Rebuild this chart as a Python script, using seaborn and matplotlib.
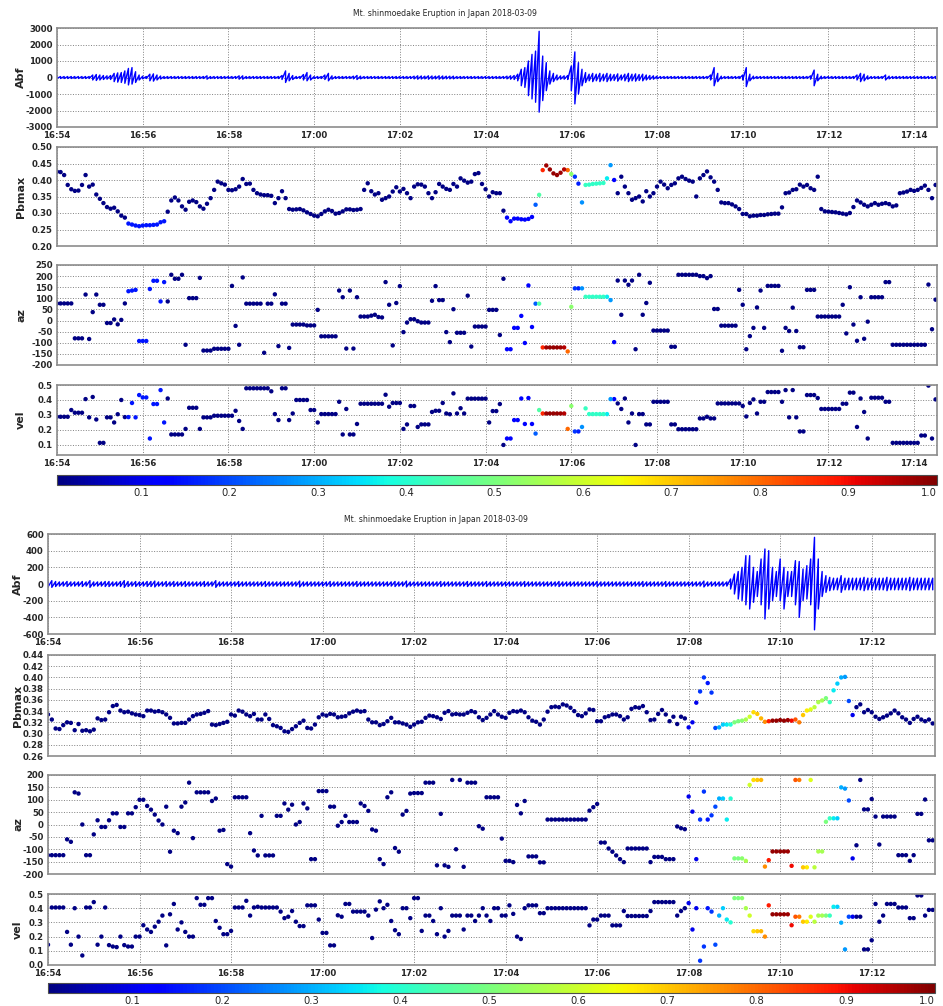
import numpy as np
import pandas as pd
import seaborn as sns
import matplotlib
import matplotlib.pyplot as plt
from matplotlib import font_manager
from matplotlib.cm import ScalarMappable
from matplotlib.colors import Normalize
from matplotlib.ticker import FormatStrFormatter

# time axis: seconds after 16:54:00, one value every 5 s
top_t = np.arange(0, 1235, 5)
bot_t = np.arange(0, 1165, 5)

top_xtick_labels = ['16:54', '16:56', '16:58', '17:00', '17:02', '17:04',
                    '17:06', '17:08', '17:10', '17:12', '17:14']
bot_xtick_labels = ['16:54', '16:56', '16:58', '17:00', '17:02', '17:04',
                    '17:06', '17:08', '17:10', '17:12']
cbar_ticks = [0.1, 0.2, 0.3, 0.4, 0.5, 0.6, 0.7, 0.8, 0.9, 1.0]

# ---------------- first event (upper block) ----------------
top_abf_hi = [
    60, 60, 60, 60, 60, 60, 60, 60, 60, 60, 150, 180, 150, 120, 100, 120, 250, 280, 300, 400,
    550, 600, 350, 150, 80, 60, 200, 220, 150, 90, 60, 60, 60, 60, 60, 60, 60, 60, 60, 60,
    60, 60, 100, 60, 60, 60, 60, 60, 60, 60, 60, 100, 100, 60, 60, 60, 60, 60, 60, 60,
    60, 60, 60, 120, 400, 250, 120, 60, 60, 180, 300, 150, 60, 60, 60, 150, 250, 100, 60, 60,
    60, 60, 60, 80, 120, 80, 60, 60, 60, 60, 60, 60, 60, 60, 60, 60, 60, 60, 60, 60,
    80, 100, 90, 80, 100, 90, 80, 100, 90, 80, 80, 80, 60, 60, 60, 60, 60, 60, 60, 60,
    60, 60, 60, 60, 60, 60, 80, 100, 120, 200, 500, 600, 1000, 1400, 1600, 2800, 1300, 900, 400, 250,
    150, 100, 100, 120, 700, 1550, 900, 500, 300, 200, 250, 200, 250, 200, 250, 200, 180, 220, 150, 200,
    250, 200, 220, 180, 200, 150, 120, 100, 80, 60, 60, 60, 60, 60, 60, 60, 60, 60, 60, 60,
    60, 60, 60, 150, 600, 250, 80, 60, 60, 60, 60, 60, 150, 600, 200, 80, 60, 60, 60, 60,
    60, 60, 60, 60, 60, 60, 60, 60, 60, 60, 60, 100, 450, 200, 80, 60, 60, 60, 60, 60,
    60, 60, 60, 60, 150, 250, 200, 100, 60, 60, 60, 60, 150, 80, 60, 60, 60, 60, 60, 60,
    60, 60, 60, 60, 60, 60, 60]
top_abf_lo = [
    60, 60, 60, 60, 60, 60, 60, 60, 60, 60, 150, 180, 150, 120, 100, 120, 250, 280, 300, 350,
    450, 400, 300, 150, 80, 60, 200, 220, 150, 90, 60, 60, 60, 60, 60, 60, 60, 60, 60, 60,
    60, 60, 100, 60, 60, 60, 60, 60, 60, 60, 60, 100, 100, 60, 60, 60, 60, 60, 60, 60,
    60, 60, 60, 120, 300, 200, 120, 60, 60, 150, 200, 150, 60, 60, 60, 120, 200, 100, 60, 60,
    60, 60, 60, 80, 120, 80, 60, 60, 60, 60, 60, 60, 60, 60, 60, 60, 60, 60, 60, 60,
    80, 100, 90, 80, 100, 90, 80, 100, 90, 80, 80, 80, 60, 60, 60, 60, 60, 60, 60, 60,
    60, 60, 60, 60, 60, 60, 80, 100, 120, 200, 500, 600, 1100, 1300, 1500, 2100, 1400, 800, 400, 250,
    150, 100, 100, 120, 800, 1600, 1000, 500, 300, 200, 250, 200, 250, 200, 250, 200, 180, 220, 150, 200,
    250, 200, 220, 180, 200, 150, 120, 100, 80, 60, 60, 60, 60, 60, 60, 60, 60, 60, 60, 60,
    60, 60, 60, 150, 500, 250, 80, 60, 60, 60, 60, 60, 150, 550, 200, 80, 60, 60, 60, 60,
    60, 60, 60, 60, 60, 60, 60, 60, 60, 60, 60, 100, 500, 200, 80, 60, 60, 60, 60, 60,
    60, 60, 60, 60, 150, 250, 200, 100, 60, 60, 60, 60, 150, 80, 60, 60, 60, 60, 60, 60,
    60, 60, 60, 60, 60, 60, 60]
top_pbmax = [
    0.425, 0.424, 0.415, 0.385, 0.372, 0.367, 0.368, 0.385, 0.415, 0.380, 0.386, 0.356, 0.343, 0.330, 0.318, 0.313, 0.316, 0.305, 0.292, 0.286,
    0.268, 0.265, 0.262, 0.260, 0.262, 0.263, 0.263, 0.264, 0.265, 0.272, 0.275, 0.304, 0.338, 0.347, 0.338, 0.320, 0.310, 0.334, 0.338, 0.333,
    0.320, 0.313, 0.328, 0.345, 0.370, 0.395, 0.390, 0.386, 0.370, 0.369, 0.372, 0.380, 0.403, 0.388, 0.389, 0.370, 0.360, 0.356, 0.354, 0.354,
    0.352, 0.330, 0.345, 0.366, 0.345, 0.312, 0.310, 0.311, 0.312, 0.308, 0.302, 0.297, 0.292, 0.290, 0.297, 0.305, 0.310, 0.306, 0.298, 0.300,
    0.305, 0.311, 0.311, 0.309, 0.310, 0.312, 0.370, 0.390, 0.366, 0.356, 0.360, 0.340, 0.345, 0.350, 0.365, 0.378, 0.365, 0.373, 0.360, 0.345,
    0.380, 0.387, 0.386, 0.380, 0.360, 0.345, 0.363, 0.388, 0.380, 0.373, 0.370, 0.388, 0.380, 0.405, 0.398, 0.392, 0.395, 0.418, 0.421, 0.388,
    0.372, 0.350, 0.363, 0.360, 0.360, 0.307, 0.286, 0.275, 0.283, 0.283, 0.281, 0.280, 0.282, 0.288, 0.325, 0.355, 0.430, 0.444, 0.432, 0.420,
    0.415, 0.422, 0.432, 0.430, 0.418, 0.410, 0.389, 0.332, 0.385, 0.386, 0.388, 0.389, 0.390, 0.391, 0.405, 0.445, 0.400, 0.360, 0.410, 0.380,
    0.360, 0.340, 0.345, 0.350, 0.335, 0.366, 0.350, 0.360, 0.380, 0.395, 0.386, 0.375, 0.385, 0.390, 0.405, 0.410, 0.403, 0.398, 0.395, 0.350,
    0.405, 0.415, 0.426, 0.408, 0.395, 0.370, 0.332, 0.330, 0.330, 0.326, 0.320, 0.312, 0.297, 0.297, 0.290, 0.292, 0.292, 0.294, 0.294, 0.296,
    0.297, 0.298, 0.298, 0.317, 0.360, 0.362, 0.370, 0.372, 0.386, 0.380, 0.385, 0.375, 0.370, 0.410, 0.312, 0.305, 0.304, 0.303, 0.302, 0.300,
    0.298, 0.296, 0.300, 0.318, 0.338, 0.332, 0.325, 0.320, 0.325, 0.330, 0.325, 0.328, 0.330, 0.327, 0.320, 0.323, 0.360, 0.362, 0.365, 0.370,
    0.367, 0.370, 0.376, 0.383, 0.370, 0.345, 0.385]
top_az = [
    77, 77, 77, 77, 77, -80, -80, -80, 117, -83, 38, 117, 71, 71, -11, -11, 5, -17, 3, 77,
    132, 135, 138, -92, -92, -92, 142, 179, 179, 86, 173, 86, 206, 188, 188, 206, -109, 101, 101, 101,
    192, -135, -135, -135, -127, -127, -127, -127, -127, 156, -24, -109, 194, 76, 76, 76, 76, 76, -145, 76,
    76, 118, -115, 76, 76, -123, -18, -18, -18, -18, -22, -22, -22, 48, -71, -71, -71, -71, -71, 135,
    105, -126, 135, -126, 105, 18, 18, 18, 22, 26, 16, 14, 173, 71, -112, 79, 155, -52, -9, 6,
    6, -3, -9, -9, -9, 89, 155, 92, 92, -52, -97, 51, -55, -55, -55, 112, -117, -27, -27, -27,
    -27, 48, 48, 48, -65, 188, -129, -129, -33, -33, 21, -101, 158, -29, 76, 76, -121, -121, -121, -121,
    -121, -121, -121, -139, 62, 145, 145, 145, 107, 107, 107, 107, 107, 107, 107, 92, -97, 180, 26, 180,
    161, 180, -129, 206, 26, 79, 170, -45, -45, -45, -45, -45, -118, -118, 206, 206, 206, 206, 206, 206,
    200, 200, 191, 200, 52, 52, -23, -23, -23, -23, -23, 138, 71, -129, -70, -33, 59, 135, -33, 156,
    156, 156, 156, -136, -33, -47, 58, -47, -120, -120, 138, 138, 138, 18, 18, 18, 18, 18, 18, 18,
    71, -58, 150, -18, -91, 105, -82, -5, 105, 105, 105, 105, 173, 173, -109, -109, -109, -109, -109, -109,
    -109, -109, -109, -109, 162, -39, 94]
top_vel = [
    0.288, 0.288, 0.288, 0.288, 0.333, 0.315, 0.315, 0.315, 0.406, 0.284, 0.420, 0.270, 0.114, 0.114, 0.284, 0.284, 0.250, 0.305, 0.400, 0.286,
    0.286, 0.380, 0.284, 0.433, 0.417, 0.417, 0.143, 0.373, 0.373, 0.466, 0.250, 0.410, 0.170, 0.170, 0.170, 0.170, 0.207, 0.348, 0.348, 0.348,
    0.207, 0.284, 0.284, 0.284, 0.295, 0.295, 0.295, 0.295, 0.295, 0.295, 0.328, 0.260, 0.207, 0.478, 0.478, 0.478, 0.478, 0.478, 0.478, 0.478,
    0.458, 0.306, 0.266, 0.478, 0.478, 0.266, 0.310, 0.400, 0.400, 0.400, 0.400, 0.333, 0.333, 0.250, 0.306, 0.306, 0.306, 0.306, 0.306, 0.388,
    0.170, 0.340, 0.170, 0.170, 0.240, 0.375, 0.375, 0.375, 0.375, 0.375, 0.375, 0.375, 0.435, 0.355, 0.380, 0.380, 0.380, 0.207, 0.237, 0.360,
    0.360, 0.220, 0.237, 0.237, 0.237, 0.320, 0.328, 0.328, 0.380, 0.310, 0.305, 0.444, 0.310, 0.345, 0.310, 0.409, 0.409, 0.409, 0.409, 0.409,
    0.409, 0.250, 0.326, 0.326, 0.373, 0.100, 0.143, 0.143, 0.266, 0.266, 0.410, 0.240, 0.413, 0.240, 0.176, 0.333, 0.310, 0.310, 0.310, 0.310,
    0.310, 0.310, 0.310, 0.207, 0.360, 0.190, 0.190, 0.220, 0.344, 0.306, 0.306, 0.306, 0.306, 0.306, 0.306, 0.406, 0.406, 0.377, 0.340, 0.410,
    0.250, 0.310, 0.100, 0.306, 0.306, 0.237, 0.237, 0.388, 0.388, 0.388, 0.388, 0.388, 0.237, 0.237, 0.205, 0.205, 0.205, 0.205, 0.205, 0.205,
    0.277, 0.277, 0.288, 0.277, 0.277, 0.377, 0.377, 0.377, 0.377, 0.377, 0.377, 0.377, 0.360, 0.290, 0.380, 0.404, 0.310, 0.388, 0.388, 0.453,
    0.453, 0.453, 0.453, 0.388, 0.466, 0.284, 0.466, 0.284, 0.190, 0.190, 0.433, 0.433, 0.433, 0.413, 0.340, 0.340, 0.340, 0.340, 0.340, 0.340,
    0.375, 0.375, 0.449, 0.449, 0.220, 0.410, 0.320, 0.143, 0.415, 0.415, 0.415, 0.415, 0.388, 0.388, 0.114, 0.114, 0.114, 0.114, 0.114, 0.114,
    0.114, 0.114, 0.163, 0.163, 0.496, 0.143, 0.404]
# colour value (0-1) where it is not the dark-blue background level
top_coh_t = [100, 105, 110, 115, 120, 125, 130, 135, 140, 145, 150,
             630, 635, 640, 645, 650, 655, 660, 665,
             670, 675, 680, 685, 690, 695, 700, 705, 710, 715, 720, 725, 730, 735,
             740, 745, 750, 755, 760, 765, 770, 775, 780]
top_coh_v = [0.15, 0.15, 0.15, 0.15, 0.15, 0.15, 0.15, 0.15, 0.15, 0.15, 0.15,
             0.13, 0.13, 0.13, 0.13, 0.13, 0.13, 0.13, 0.13,
             0.22, 0.45, 0.87, 0.97, 0.98, 0.98, 0.98, 0.97, 0.95, 0.80, 0.52, 0.18, 0.16, 0.27,
             0.42, 0.41, 0.41, 0.41, 0.41, 0.41, 0.36, 0.28, 0.12]

# ---------------- second event (lower block) ----------------
bot_abf_hi = [
    35, 40, 30, 25, 25, 30, 25, 25, 25, 30, 25, 40, 25, 25, 25, 30, 30, 25, 25, 30,
    40, 30, 25, 30, 25, 25, 30, 30, 35, 25, 25, 30, 25, 30, 25, 25, 30, 25, 25, 25,
    25, 30, 25, 25, 40, 25, 25, 25, 25, 25, 30, 25, 25, 25, 25, 25, 25, 30, 25, 25,
    25, 25, 25, 25, 25, 25, 35, 25, 25, 25, 25, 25, 25, 25, 30, 25, 25, 25, 25, 25,
    25, 30, 25, 25, 25, 25, 25, 25, 25, 25, 25, 30, 25, 25, 35, 25, 25, 25, 25, 25,
    25, 25, 25, 30, 25, 25, 25, 25, 25, 25, 30, 25, 25, 25, 25, 30, 25, 25, 25, 25,
    25, 25, 25, 25, 25, 30, 25, 25, 25, 25, 25, 25, 25, 25, 30, 25, 25, 25, 25, 25,
    25, 25, 25, 25, 30, 25, 25, 25, 25, 25, 25, 25, 25, 25, 25, 25, 30, 25, 25, 25,
    25, 25, 30, 25, 25, 25, 25, 25, 25, 25, 25, 25, 35, 25, 25, 25, 25, 25, 25, 60,
    120, 150, 200, 340, 340, 200, 150, 300, 420, 400, 200, 150, 300, 200, 150, 150, 280, 270, 180, 220,
    300, 560, 300, 150, 100, 80, 70, 70, 100, 70, 70, 70, 70, 70, 80, 70, 70, 70, 70, 70,
    80, 70, 70, 70, 70, 70, 80, 70, 70, 70, 70, 70, 70]
bot_abf_lo = [
    35, 40, 30, 25, 25, 30, 25, 25, 25, 30, 25, 40, 25, 25, 25, 30, 30, 25, 25, 30,
    40, 30, 25, 30, 25, 25, 30, 30, 35, 25, 25, 30, 25, 30, 25, 25, 30, 25, 25, 25,
    25, 30, 25, 25, 40, 25, 25, 25, 25, 25, 30, 25, 25, 25, 25, 25, 25, 30, 25, 25,
    25, 25, 25, 25, 25, 25, 35, 25, 25, 25, 25, 25, 25, 25, 30, 25, 25, 25, 25, 25,
    25, 30, 25, 25, 25, 25, 25, 25, 25, 25, 25, 30, 25, 25, 35, 25, 25, 25, 25, 25,
    25, 25, 25, 30, 25, 25, 25, 25, 25, 25, 30, 25, 25, 25, 25, 30, 25, 25, 25, 25,
    25, 25, 25, 25, 25, 30, 25, 25, 25, 25, 25, 25, 25, 25, 30, 25, 25, 25, 25, 25,
    25, 25, 25, 25, 30, 25, 25, 25, 25, 25, 25, 25, 25, 25, 25, 25, 30, 25, 25, 25,
    25, 25, 30, 25, 25, 25, 25, 25, 25, 25, 25, 25, 35, 25, 25, 25, 25, 25, 25, 60,
    120, 180, 200, 250, 300, 220, 150, 250, 420, 300, 200, 150, 200, 300, 150, 150, 250, 400, 200, 180,
    250, 550, 300, 150, 100, 80, 70, 70, 100, 70, 70, 70, 70, 70, 80, 70, 70, 70, 70, 70,
    80, 70, 70, 70, 70, 70, 80, 70, 70, 70, 70, 70, 70]
bot_pbmax = [
    0.334, 0.325, 0.309, 0.308, 0.315, 0.320, 0.319, 0.306, 0.317, 0.305, 0.306, 0.304, 0.307, 0.327, 0.324, 0.325, 0.338, 0.349, 0.351, 0.341,
    0.338, 0.339, 0.336, 0.334, 0.333, 0.331, 0.341, 0.341, 0.339, 0.340, 0.338, 0.334, 0.328, 0.318, 0.318, 0.319, 0.319, 0.325, 0.331, 0.334,
    0.335, 0.337, 0.340, 0.316, 0.315, 0.317, 0.319, 0.321, 0.334, 0.332, 0.341, 0.339, 0.334, 0.331, 0.335, 0.325, 0.325, 0.334, 0.326, 0.315,
    0.313, 0.310, 0.304, 0.303, 0.308, 0.313, 0.319, 0.323, 0.310, 0.309, 0.316, 0.329, 0.334, 0.332, 0.335, 0.334, 0.329, 0.330, 0.331, 0.336,
    0.339, 0.341, 0.339, 0.340, 0.325, 0.320, 0.320, 0.315, 0.317, 0.322, 0.328, 0.320, 0.320, 0.318, 0.316, 0.312, 0.316, 0.320, 0.321, 0.328,
    0.332, 0.331, 0.329, 0.326, 0.337, 0.340, 0.334, 0.335, 0.334, 0.334, 0.337, 0.340, 0.338, 0.329, 0.324, 0.328, 0.334, 0.340, 0.334, 0.330,
    0.328, 0.337, 0.340, 0.339, 0.341, 0.338, 0.329, 0.323, 0.321, 0.316, 0.325, 0.339, 0.347, 0.348, 0.347, 0.352, 0.350, 0.346, 0.340, 0.333,
    0.331, 0.336, 0.343, 0.342, 0.322, 0.322, 0.329, 0.331, 0.334, 0.334, 0.331, 0.325, 0.329, 0.344, 0.347, 0.346, 0.349, 0.338, 0.324, 0.325,
    0.335, 0.342, 0.334, 0.322, 0.330, 0.317, 0.330, 0.327, 0.311, 0.320, 0.355, 0.375, 0.400, 0.390, 0.373, 0.310, 0.311, 0.316, 0.316, 0.316,
    0.320, 0.322, 0.323, 0.325, 0.330, 0.338, 0.335, 0.327, 0.321, 0.322, 0.323, 0.323, 0.324, 0.323, 0.324, 0.323, 0.325, 0.320, 0.333, 0.341,
    0.343, 0.347, 0.356, 0.359, 0.363, 0.356, 0.377, 0.389, 0.400, 0.401, 0.358, 0.333, 0.347, 0.352, 0.338, 0.342, 0.338, 0.330, 0.326, 0.329,
    0.332, 0.336, 0.341, 0.336, 0.329, 0.325, 0.319, 0.326, 0.330, 0.325, 0.322, 0.325, 0.318]
bot_az = [
    -124, -124, -124, -124, -124, -60, -70, 130, 125, 0, -124, -124, -40, 17, -10, -10, 17, 45, 45, -10,
    -10, 45, 45, 70, 100, 100, 75, 60, 40, 16, 0, 72, -110, -25, -35, 72, 89, 169, -55, 130,
    130, 130, 130, 95, 105, -25, -22, -160, -170, 110, 110, 110, 110, -35, -105, -125, 35, -125, -125, -125,
    35, 35, 85, 60, 80, 0, 10, 85, 65, -140, -140, 135, 135, 135, 72, 72, -5, 10, 35, 10,
    10, 10, 85, 75, 55, -20, -25, -140, -160, 110, 130, -95, -110, 40, 55, 125, 127, 127, 127, 169,
    169, 169, -165, 43, -165, -171, 180, -100, 180, -171, 169, 169, 169, -7, -17, 110, 110, 110, 110, -57,
    -147, -147, -152, 79, 45, 95, -129, -129, -129, -153, -153, 20, 20, 20, 20, 20, 20, 20, 20, 20,
    20, 20, 56, 70, 83, -73, -73, -97, -110, -125, -140, -152, -97, -97, -97, -97, -97, -97, -152, -131,
    -131, -131, -140, -140, -140, -8, -15, -19, 113, 52, -140, 20, 133, 20, 37, 72, 105, 105, 20, 105,
    -137, -137, -137, -147, 160, 180, 180, 180, -170, -144, -109, -109, -109, -109, -109, -167, 180, 180, -173, -173,
    180, -173, -109, -109, 11, 25, 25, 25, 150, 145, 97, -137, -84, 180, 61, 61, 103, 32, -81, 32,
    32, 32, 32, -124, -124, -124, -147, -124, 43, 43, 101, -64, -64]
bot_vel = [
    0.143, 0.405, 0.405, 0.405, 0.405, 0.233, 0.143, 0.400, 0.200, 0.067, 0.405, 0.405, 0.443, 0.143, 0.200, 0.405, 0.140, 0.130, 0.126, 0.200,
    0.140, 0.130, 0.130, 0.200, 0.200, 0.280, 0.250, 0.233, 0.270, 0.305, 0.348, 0.138, 0.357, 0.430, 0.250, 0.300, 0.233, 0.200, 0.200, 0.471,
    0.424, 0.424, 0.471, 0.471, 0.310, 0.262, 0.217, 0.217, 0.240, 0.405, 0.405, 0.405, 0.452, 0.348, 0.405, 0.410, 0.405, 0.405, 0.405, 0.405,
    0.405, 0.376, 0.330, 0.340, 0.380, 0.305, 0.274, 0.274, 0.420, 0.420, 0.420, 0.320, 0.226, 0.226, 0.138, 0.138, 0.350, 0.340, 0.430, 0.430,
    0.376, 0.376, 0.376, 0.376, 0.348, 0.190, 0.390, 0.448, 0.400, 0.424, 0.310, 0.245, 0.217, 0.400, 0.400, 0.330, 0.471, 0.471, 0.240, 0.348,
    0.348, 0.310, 0.217, 0.400, 0.200, 0.240, 0.348, 0.348, 0.348, 0.250, 0.348, 0.348, 0.310, 0.348, 0.400, 0.348, 0.310, 0.400, 0.400, 0.348,
    0.348, 0.420, 0.360, 0.200, 0.183, 0.400, 0.420, 0.420, 0.420, 0.365, 0.365, 0.400, 0.400, 0.400, 0.400, 0.400, 0.400, 0.400, 0.400, 0.400,
    0.400, 0.400, 0.279, 0.320, 0.320, 0.348, 0.348, 0.348, 0.279, 0.279, 0.279, 0.380, 0.345, 0.345, 0.345, 0.345, 0.345, 0.345, 0.380, 0.443,
    0.443, 0.443, 0.443, 0.443, 0.443, 0.348, 0.380, 0.400, 0.436, 0.250, 0.400, 0.030, 0.130, 0.400, 0.376, 0.143, 0.348, 0.400, 0.320, 0.300,
    0.471, 0.471, 0.471, 0.400, 0.348, 0.238, 0.238, 0.238, 0.200, 0.420, 0.357, 0.357, 0.357, 0.357, 0.357, 0.280, 0.340, 0.340, 0.305, 0.305,
    0.340, 0.305, 0.348, 0.348, 0.348, 0.348, 0.410, 0.410, 0.298, 0.110, 0.340, 0.340, 0.340, 0.340, 0.110, 0.110, 0.174, 0.430, 0.305, 0.348,
    0.430, 0.430, 0.430, 0.405, 0.405, 0.405, 0.330, 0.330, 0.490, 0.490, 0.348, 0.388, 0.388]
bot_coh_t = [840, 845, 850, 855, 860, 865, 870, 875, 880, 885, 890, 895,
             900, 905, 910, 915, 920, 925, 930, 935, 940, 945, 950, 955, 960, 965, 970,
             975, 980, 985, 990, 995, 1000, 1005, 1010, 1015, 1020, 1025, 1030, 1035,
             1040, 1045, 1050, 1055]
bot_coh_v = [0.10, 0.10, 0.10, 0.18, 0.18, 0.15, 0.18, 0.20, 0.30, 0.33, 0.36, 0.40,
             0.50, 0.50, 0.52, 0.56, 0.60, 0.68, 0.70, 0.72, 0.76, 0.88, 0.98, 0.98, 0.98, 0.98, 0.97,
             0.90, 0.82, 0.78, 0.70, 0.66, 0.62, 0.58, 0.56, 0.55, 0.50, 0.42, 0.36, 0.33,
             0.30, 0.28, 0.20, 0.10]

TITLE = 'Mt. shinmoedake Eruption in Japan 2018-03-09'
BASE_COH = 0.01
CMIN, CMAX = 0.005, 1.0
JET = matplotlib.colormaps['jet']

for name, arr, ref in [('top_abf_hi', top_abf_hi, top_t), ('top_abf_lo', top_abf_lo, top_t),
                       ('top_pbmax', top_pbmax, top_t), ('top_az', top_az, top_t),
                       ('top_vel', top_vel, top_t), ('bot_abf_hi', bot_abf_hi, bot_t),
                       ('bot_abf_lo', bot_abf_lo, bot_t), ('bot_pbmax', bot_pbmax, bot_t),
                       ('bot_az', bot_az, bot_t), ('bot_vel', bot_vel, bot_t)]:
    assert len(arr) == len(ref), (name, len(arr), len(ref))

sns.set_theme(style='white')
plt.rcParams['axes.unicode_minus'] = False

# the original uses a narrow face; take a condensed one if the machine has it
fonts = font_manager.fontManager.ttflist
if any(f.name == 'Liberation Sans Narrow' for f in fonts):
    plt.rcParams['font.family'] = ['Liberation Sans Narrow', 'DejaVu Sans']
    TICK_FS, TITLE_FS, CB_FS = 7.5, 7.5, 8.5
elif any(f.name == 'DejaVu Sans' and f.stretch == 'condensed' for f in fonts):
    plt.rcParams['font.family'] = ['DejaVu Sans']
    plt.rcParams['font.stretch'] = 'condensed'
    TICK_FS, TITLE_FS, CB_FS = 6.8, 6.2, 8
else:
    plt.rcParams['font.family'] = ['DejaVu Sans']
    TICK_FS, TITLE_FS, CB_FS = 6, 5.6, 7

W, H = 943, 1006
fig = plt.figure(figsize=(W / 100, H / 100), dpi=100)


def px_axes(left, top, right, bottom):
    return fig.add_axes([left / W, 1 - bottom / H, (right - left) / W, (bottom - top) / H])


def coherence(t, times, vals):
    c = np.full(len(t), BASE_COH)
    c[np.searchsorted(t, times)] = vals
    return c


def style(ax, t_end, labels, show_x, ylabel, yfmt, yticks, ylim, label_x):
    ax.set_xlim(0, t_end)
    ax.set_xticks(np.arange(len(labels)) * 120)
    ax.set_xticklabels(labels if show_x else [])
    ax.set_ylim(*ylim)
    ax.set_yticks(yticks)
    ax.yaxis.set_major_formatter(FormatStrFormatter(yfmt))
    ax.grid(True, linestyle=':', color='0.5', linewidth=0.7)
    for s in ax.spines.values():
        s.set_color('0.55')
        s.set_linewidth(1.2)
    ax.tick_params(length=0, pad=3, labelsize=TICK_FS)
    for lab in ax.get_xticklabels() + ax.get_yticklabels():
        lab.set_fontweight('bold')
    ax.set_xlabel('')
    ax.set_ylabel(ylabel, fontsize=8, fontweight='bold', family='DejaVu Sans', stretch='normal')
    ax.yaxis.set_label_coords(label_x, 0.5)


def scatter(ax, t, v, c):
    df = pd.DataFrame({'t': t, 'v': v, 'c': c}).sort_values('c', kind='stable')
    sns.scatterplot(data=df, x='t', y='v', hue='c', palette=JET, hue_norm=(CMIN, CMAX),
                    s=10, linewidth=0, legend=False, ax=ax)


def waveform(ax, t, hi, lo):
    x = np.repeat(t, 2)
    y = np.empty(2 * len(t))
    y[0::2] = hi
    y[1::2] = -np.asarray(lo, dtype=float)
    sns.lineplot(x=x, y=y, sort=False, estimator=None, color='#0000ff', linewidth=1.0, ax=ax)


def block(t, t_end, labels, hi, lo, pb, az, vel, coh, left, right, tops, abf_ticks,
          pb_ticks, pb_lim, az_ticks, az_lim, vel_ticks, vel_lim, title_xy, label_x):
    ax1 = px_axes(left, tops[0][0], right, tops[0][1])
    waveform(ax1, t, hi, lo)
    style(ax1, t_end, labels, True, 'Abf', '%d', abf_ticks, (abf_ticks[0], abf_ticks[-1]), label_x)

    ax2 = px_axes(left, tops[1][0], right, tops[1][1])
    scatter(ax2, t, pb, coh)
    style(ax2, t_end, labels, False, 'Pbmax', '%.2f', pb_ticks, pb_lim, label_x)

    ax3 = px_axes(left, tops[2][0], right, tops[2][1])
    scatter(ax3, t, az, coh)
    style(ax3, t_end, labels, False, 'az', '%d', az_ticks, az_lim, label_x)

    ax4 = px_axes(left, tops[3][0], right, tops[3][1])
    scatter(ax4, t, vel, coh)
    style(ax4, t_end, labels, True, 'vel', '%.1f', vel_ticks, vel_lim, label_x)

    cax = px_axes(left, tops[4][0], right, tops[4][1])
    sm = ScalarMappable(norm=Normalize(CMIN, CMAX), cmap=JET)
    cb = fig.colorbar(sm, cax=cax, orientation='horizontal', ticks=cbar_ticks)
    cb.ax.set_xticklabels(['%.1f' % v for v in cbar_ticks])
    cb.ax.tick_params(length=0, pad=2, labelsize=CB_FS)
    cb.ax.get_xticklabels()[-1].set_horizontalalignment('right')
    cb.outline.set_edgecolor('0.3')
    cb.outline.set_linewidth(0.8)

    fig.text(title_xy[0] / W, 1 - title_xy[1] / H, TITLE, ha='center', va='center', fontsize=TITLE_FS)


block(top_t, 1232, top_xtick_labels, top_abf_hi, top_abf_lo, top_pbmax, top_az, top_vel,
      coherence(top_t, top_coh_t, top_coh_v), 57, 937,
      [(28, 127), (147, 246), (265, 365), (385, 455), (475, 485)],
      [-3000, -2000, -1000, 0, 1000, 2000, 3000],
      [0.20, 0.25, 0.30, 0.35, 0.40, 0.45, 0.50], (0.20, 0.50),
      [-200, -150, -100, -50, 0, 50, 100, 150, 200, 250], (-200, 250),
      [0.1, 0.2, 0.3, 0.4, 0.5], (0.033, 0.5), (445, 14), -0.035)

block(bot_t, 1163, bot_xtick_labels, bot_abf_hi, bot_abf_lo, bot_pbmax, bot_az, bot_vel,
      coherence(bot_t, bot_coh_t, bot_coh_v), 48, 935,
      [(534, 634), (655, 756), (775, 874), (894, 965), (983, 993)],
      [-600, -400, -200, 0, 200, 400, 600],
      [0.26, 0.28, 0.30, 0.32, 0.34, 0.36, 0.38, 0.40, 0.42, 0.44], (0.26, 0.44),
      [-200, -150, -100, -50, 0, 50, 100, 150, 200], (-200, 200),
      [0.0, 0.1, 0.2, 0.3, 0.4, 0.5], (0.0, 0.5), (436, 520), -0.028)

plt.savefig('out.png', dpi=100)
